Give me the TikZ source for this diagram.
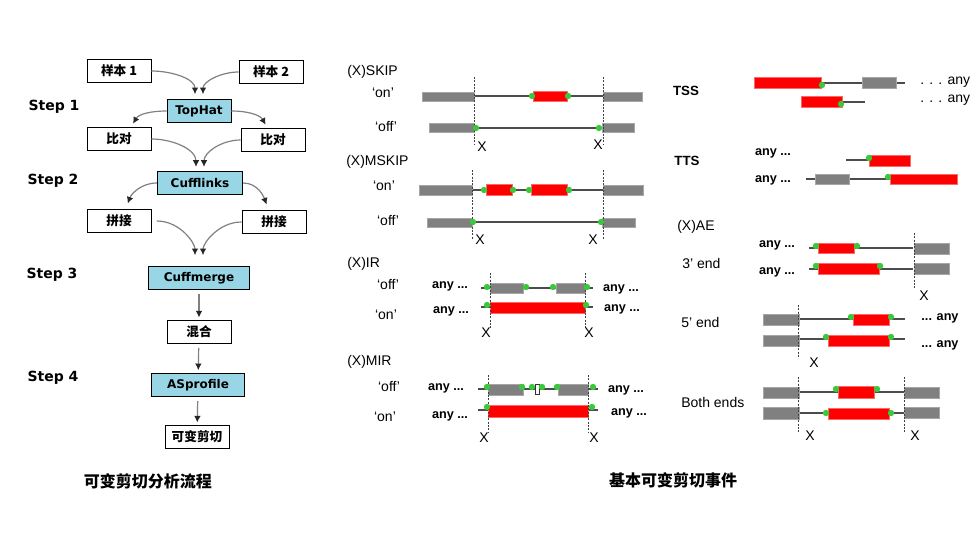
\documentclass[tikz,border=0pt]{standalone}
\usepackage{fontspec}
\setmainfont{Liberation Sans}
\newfontfamily\stepfont{DejaVu Sans}
\newfontfamily\cjkfont{Noto Sans CJK SC}
\usepackage{xcolor}
\usepackage{tikz}
\usetikzlibrary{arrows.meta,positioning}

\definecolor{toolblue}{RGB}{152,214,230}
\definecolor{exongray}{RGB}{128,128,128}
\definecolor{altred}{RGB}{255,0,0}
\definecolor{spgreen}{RGB}{60,200,60}

\begin{document}
\begin{tikzpicture}[
    x=0.75pt, y=-0.75pt,
    tool/.style={rectangle, draw, fill=toolblue, line width=0.7pt, minimum height=17.5pt, inner sep=0pt, font=\stepfont\bfseries\fontsize{9}{10}\selectfont},
    file/.style={rectangle, draw, fill=white, line width=0.7pt, minimum width=48pt, minimum height=17pt, inner sep=0pt, font=\cjkfont\bfseries\fontsize{9.5}{10}\selectfont},
    steplabel/.style={font=\stepfont\bfseries\fontsize{10.5}{12}\selectfont},
    title/.style={font=\cjkfont\bfseries\fontsize{12}{14}\selectfont},
    flow/.style={draw=black!50, line width=0.9pt, -{Latex[length=5pt,width=5pt,color=black!85]}},
    exon/.style={fill=exongray, draw=exongray!70, line width=0.4pt},
    alt/.style={fill=altred, draw=altred!60, line width=0.4pt},
    intron/.style={draw=black!70, line width=0.9pt},
    cut/.style={draw=black!75, line width=0.7pt, dash pattern=on 1.5pt off 1pt},
    junc/.style={fill=spgreen},
    event/.style={anchor=west, inner sep=0pt, font=\fontsize{10.5}{12}\selectfont},
    state/.style={inner sep=0pt, font=\fontsize{10.5}{12}\selectfont},
    anyl/.style={inner sep=0pt, font=\bfseries\fontsize{9.5}{11}\selectfont},
    xmark/.style={inner sep=0pt, font=\fontsize{10.5}{12}\selectfont}
]
    \useasboundingbox (0,0) rectangle (976,535);

    % Pipeline
    \node [file] (sample1) at (119,71) {样本 1};
    \node [file] (sample2) at (271,72) {样本 2};
    \node [tool, minimum width=48pt] (tophat) at (199,111) {TopHat};
    \node [file] (align1) at (119,139) {比对};
    \node [file] (align2) at (273,140) {比对};
    \node [tool, minimum width=64pt] (cufflinks) at (200,183) {Cufflinks};
    \node [file] (splice1) at (119,221) {拼接};
    \node [file] (splice2) at (274,222) {拼接};
    \node [tool, minimum width=76pt] (cuffmerge) at (199,278) {Cuffmerge};
    \node [file] (merged) at (199,332) {混合};
    \node [tool, minimum width=70pt] (asprofile) at (198,385) {ASprofile};
    \node [file] (asresult) at (197,437) {可变剪切};

    \node [steplabel] (step1) at (54,107) {Step 1};
    \node [steplabel] (step2) at (53,181) {Step 2};
    \node [steplabel] (step3) at (52,275) {Step 3};
    \node [steplabel] (step4) at (53,378) {Step 4};

    \path [flow, shorten >=3.5pt] (sample1.east) to[out=0, in=90] ([xshift=-3pt]tophat.north);
    \path [flow, shorten >=3.5pt] (sample2.west) to[out=180, in=90] ([xshift=3pt]tophat.north);
    \path [flow, shorten >=3pt] (tophat.west) to[out=180, in=60] ([xshift=9pt]align1.north);
    \path [flow, shorten >=3pt] (tophat.east) to[out=0, in=120] ([xshift=-4pt]align2.north);
    \path [flow, shorten >=3pt] (align1.east) to[out=0, in=90] ([xshift=-3pt]cufflinks.north);
    \path [flow, shorten >=3pt] (align2.west) to[out=180, in=90] ([xshift=3pt]cufflinks.north);
    \path [flow, shorten >=4.5pt] (cufflinks.west) to[out=180, in=70] ([xshift=5pt]splice1.north);
    \path [flow, shorten >=4.5pt] (cufflinks.east) to[out=0, in=110] ([xshift=-4pt]splice2.north);
    \path [flow, shorten >=8pt] ([xshift=4pt]splice1.east) to[out=0, in=90] ([xshift=-3pt]cuffmerge.north);
    \path [flow, shorten >=8pt] (splice2.west) to[out=180, in=90] ([xshift=3pt]cuffmerge.north);
    \path [flow, shorten <=3pt, shorten >=2pt] (cuffmerge) -- (merged);
    \path [flow, shorten <=3pt, shorten >=2pt] (merged) -- (asprofile);
    \path [flow, shorten <=3pt, shorten >=2pt] (asprofile) -- (asresult);

    \node [title] (lefttitle) at (148,481) {可变剪切分析流程};

    % (X)SKIP
    \node [event] (skip) at (347,72) {(X)SKIP};
    \node [state] (skipon) at (383,93) {‘on’};
    \node [state] (skipoff) at (386,127) {‘off’};
    \draw [intron] (474,96) -- (603,96);
    \filldraw [exon] (422,92) rectangle (474,101);
    \filldraw [alt] (533,91) rectangle (567,101);
    \filldraw [exon] (603,92) rectangle (642,101);
    \draw [intron] (474,128) -- (603,128);
    \filldraw [exon] (429,123) rectangle (474,132);
    \filldraw [exon] (602,123) rectangle (634,132);
    \draw [cut] (474,77) -- (474,145);
    \draw [cut] (603,77) -- (603,145);
    \foreach \x/\y in {532/96, 568/96, 476/128, 599/128}
        \fill [junc] (\x,\y) circle [radius=2.4pt];
    \node [xmark] (skipx1) at (482,147) {X};
    \node [xmark] (skipx2) at (598,145) {X};

    % (X)MSKIP
    \node [event] (mskip) at (346,162) {(X)MSKIP};
    \node [state] (mskipon) at (384,186) {‘on’};
    \node [state] (mskipoff) at (388,221) {‘off’};
    \draw [intron] (472,190) -- (603,190);
    \filldraw [exon] (419,185) rectangle (472,195);
    \filldraw [alt] (486,184) rectangle (512,195);
    \filldraw [alt] (531,184) rectangle (567,195);
    \filldraw [exon] (603,185) rectangle (643,195);
    \draw [intron] (472,222) -- (603,222);
    \filldraw [exon] (427,218) rectangle (472,227);
    \filldraw [exon] (602,218) rectangle (635,227);
    \draw [cut] (472,170) -- (472,240);
    \draw [cut] (603,170) -- (603,240);
    \foreach \x/\y in {484/190, 513/190, 529/190, 569/190, 473/222, 601/222}
        \fill [junc] (\x,\y) circle [radius=2.4pt];
    \node [xmark] (mskipx1) at (480,240) {X};
    \node [xmark] (mskipx2) at (593,240) {X};

    % (X)IR
    \node [event] (ir) at (347,264) {(X)IR};
    \node [state] (iroff) at (388,285) {‘off’};
    \node [state] (iron) at (386,315) {‘on’};
    \node [anyl] (iranya) at (450,286) {any ...};
    \node [anyl] (iranyb) at (621,289) {any ...};
    \node [anyl] (iranyc) at (451,311) {any ...};
    \node [anyl] (iranyd) at (622,309) {any ...};
    \draw [intron] (481,288) -- (593,288);
    \filldraw [exon] (490,283) rectangle (523,293);
    \filldraw [exon] (556,283) rectangle (585,293);
    \draw [intron] (481,307) -- (593,307);
    \filldraw [alt] (490,302) rectangle (585,313);
    \draw [cut] (490,273) -- (490,328);
    \draw [cut] (585,273) -- (585,328);
    \foreach \x/\y in {487/287, 526/287, 553/287, 587/287, 487/305, 586/305}
        \fill [junc] (\x,\y) circle [radius=2.4pt];
    \node [xmark] (irx1) at (486,333) {X};
    \node [xmark] (irx2) at (589,333) {X};

    % (X)MIR
    \node [event] (mir) at (347,362) {(X)MIR};
    \node [state] (miroff) at (389,387) {‘off’};
    \node [state] (miron) at (385,417) {‘on’};
    \node [anyl] (miranya) at (446,388) {any ...};
    \node [anyl] (miranyb) at (626,390) {any ...};
    \node [anyl] (miranyc) at (450,416) {any ...};
    \node [anyl] (miranyd) at (629,413) {any ...};
    \draw [intron] (478,389) -- (598,389);
    \filldraw [exon] (488,384) rectangle (523,395);
    \filldraw [fill=white, draw=black!80, line width=0.6pt] (535,384) rectangle (539,394);
    \filldraw [exon] (558,384) rectangle (588,395);
    \draw [intron] (478,410) -- (598,410);
    \filldraw [alt] (488,405) rectangle (588,417);
    \draw [cut] (488,375) -- (488,433);
    \draw [cut] (588,375) -- (588,433);
    \foreach \x/\y in {487/387, 522/387, 532/387, 542/387, 557/387, 593/387, 487/407, 592/407}
        \fill [junc] (\x,\y) circle [radius=2.4pt];
    \node [xmark] (mirx1) at (484,438) {X};
    \node [xmark] (mirx2) at (594,438) {X};

    \node [title] (righttitle) at (673,480) {基本可变剪切事件};

    % TSS
    \node [inner sep=0pt, font=\bfseries\fontsize{10}{12}\selectfont] (tss) at (686,91) {TSS};
    \draw [intron] (822,83) -- (905,83);
    \filldraw [alt] (754,77) rectangle (821,88);
    \filldraw [exon] (862,77) rectangle (896,88);
    \draw [intron] (842,102) -- (865,102);
    \filldraw [alt] (801,96) rectangle (842,107);
    \foreach \x/\y in {822/85, 841/104}
        \fill [junc] (\x,\y) circle [radius=2.4pt];
    \node [event] (tssanya) at (920,82) {. . . any};
    \node [event] (tssanyb) at (920,100) {. . . any};

    % TTS
    \node [inner sep=0pt, font=\bfseries\fontsize{10}{12}\selectfont] (tts) at (687,161) {TTS};
    \node [anyl] (ttsanya) at (773,153) {any ...};
    \node [anyl] (ttsanyb) at (773,180) {any ...};
    \draw [intron] (846,160) -- (869,160);
    \filldraw [alt] (869,155) rectangle (910,166);
    \draw [intron] (806,179) -- (890,179);
    \filldraw [exon] (815,174) rectangle (849,184);
    \filldraw [alt] (890,174) rectangle (957,184);
    \foreach \x/\y in {869/158, 888/177}
        \fill [junc] (\x,\y) circle [radius=2.4pt];

    % (X)AE
    \node [event] (ae) at (677,227) {(X)AE};
    \node [event] (end3) at (682,263) {3' end};
    \node [anyl] (aeanya) at (777,245) {any ...};
    \node [anyl] (aeanyb) at (777,272) {any ...};
    \draw [intron] (809,248) -- (913,248);
    \filldraw [alt] (818,243) rectangle (854,253);
    \filldraw [exon] (914,243) rectangle (949,254);
    \draw [intron] (809,269) -- (913,269);
    \filldraw [alt] (818,263) rectangle (879,274);
    \filldraw [exon] (914,263) rectangle (949,274);
    \draw [cut] (914,233) -- (914,288);
    \foreach \x/\y in {816/246, 857/246, 816/266, 880/266}
        \fill [junc] (\x,\y) circle [radius=2.4pt];
    \node [xmark] (end3x) at (924,296) {X};

    \node [event] (end5) at (681,322) {5' end};
    \draw [intron] (799,319) -- (905,319);
    \filldraw [exon] (763,314) rectangle (799,325);
    \filldraw [alt] (853,314) rectangle (889,325);
    \draw [intron] (799,339) -- (905,339);
    \filldraw [exon] (763,335) rectangle (799,346);
    \filldraw [alt] (828,335) rectangle (889,346);
    \draw [cut] (798,305) -- (798,358);
    \foreach \x/\y in {851/317, 891/317, 826/337, 891/337}
        \fill [junc] (\x,\y) circle [radius=2.4pt];
    \node [anyl] (end5anya) at (940,318) {... any};
    \node [anyl] (end5anyb) at (940,345) {... any};
    \node [xmark] (end5x) at (814,363) {X};

    \node [event] (both) at (681,402) {Both ends};
    \draw [intron] (799,392) -- (905,392);
    \filldraw [exon] (763,387) rectangle (799,398);
    \filldraw [alt] (838,386) rectangle (874,398);
    \filldraw [exon] (904,387) rectangle (939,398);
    \draw [intron] (799,413) -- (905,413);
    \filldraw [exon] (763,407) rectangle (799,419);
    \filldraw [alt] (828,408) rectangle (889,419);
    \filldraw [exon] (904,407) rectangle (939,418);
    \draw [cut] (798,377) -- (798,432);
    \draw [cut] (904,377) -- (904,432);
    \foreach \x/\y in {836/389, 877/389, 826/413, 891/413}
        \fill [junc] (\x,\y) circle [radius=2.4pt];
    \node [xmark] (bothx1) at (810,436) {X};
    \node [xmark] (bothx2) at (915,436) {X};

\end{tikzpicture}
\end{document}
